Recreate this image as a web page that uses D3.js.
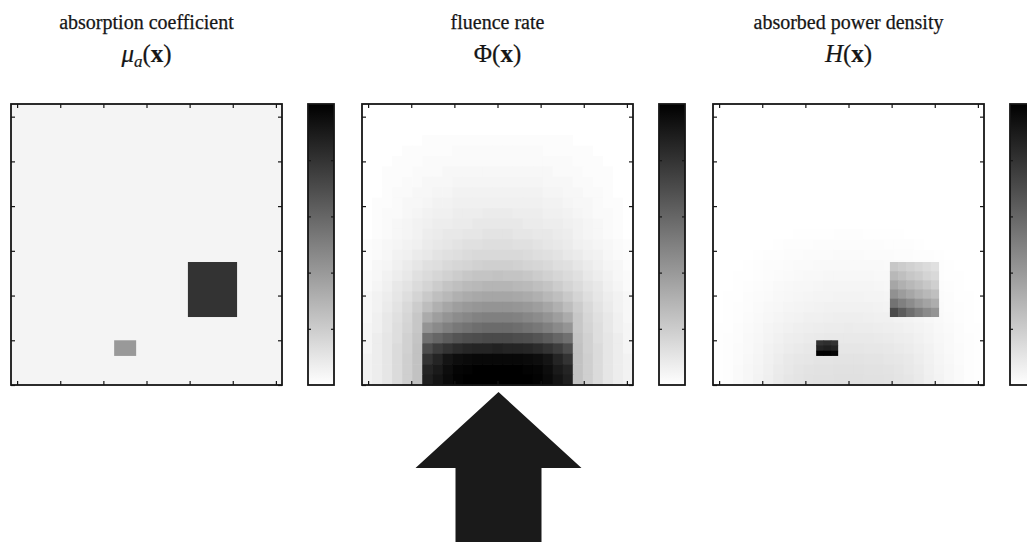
<!DOCTYPE html>
<html><head><meta charset="utf-8">
<script src="https://cdn.jsdelivr.net/npm/d3@7"></script>
<style>body{margin:0;background:#fff}svg{display:block}</style>
</head><body>
<svg id="chart" width="1027" height="542"></svg>
<script>
// ---------------- data ----------------
const titles = ["absorption coefficient", "fluence rate", "absorbed power density"];
const xTicks = [-3, -2, -1, 0, 1, 2, 3];
const yTicks = [0, 1, 2, 3, 4, 5, 6];
const cbTicks = [0.2, 0.4, 0.6, 0.8];
const xDomain = [-Math.PI, Math.PI];
const yDomain = [0, 2 * Math.PI];

// absorption coefficient: background value and inclusions (data coordinates)
const muBackground = 0.043;
const muInclusions = [
  {x0: 0.96, x1: 2.10, y0: 1.52, y1: 2.75, mu: 0.80},
  {x0: -0.75, x1: -0.24, y0: 0.65, y1: 1.00, mu: 0.40}
];

// fluence rate grid, rows from top to bottom, columns from left to right
const phiRows = [
[0,0,0,0,0,0,0,0,0,0,0,0,0,0,0,0,0,0,0,0,0,0,0,0,0,0,0],
[0,0,0,0,0,0,0,0,0,0,0,0,0,0,0,0,0,0,0,0,0,0,0,0,0,0,0],
[0,0,0,0,0,0,0,0,0,0,0,0,0,0,0,0,0,0,0,0,0,0,0,0,0,0,0],
[0,0,0,0,0,0,.01,.01,.01,.01,.01,.01,.01,.01,.01,.01,.01,.01,.01,.01,.01,0,0,0,0,0,0],
[0,0,0,0,.01,.01,.01,.01,.01,.02,.02,.02,.02,.02,.02,.02,.02,.02,.01,.01,.01,.01,.01,0,0,0,0],
[0,0,0,.01,.01,.01,.02,.02,.02,.02,.02,.02,.02,.02,.02,.02,.02,.02,.02,.02,.02,.01,.01,.01,0,0,0],
[0,0,.01,.01,.01,.02,.02,.02,.03,.03,.03,.03,.03,.03,.03,.03,.03,.03,.03,.02,.02,.02,.01,.01,.01,0,0],
[0,0,.01,.01,.02,.02,.03,.03,.03,.04,.04,.04,.04,.04,.04,.04,.04,.04,.03,.03,.03,.02,.02,.01,.01,0,0],
[0,0,.01,.02,.02,.03,.03,.04,.04,.05,.05,.05,.05,.05,.05,.05,.05,.05,.04,.04,.03,.03,.02,.02,.01,0,0],
[0,.01,.01,.02,.03,.03,.04,.05,.05,.06,.06,.06,.06,.06,.06,.06,.06,.06,.05,.05,.04,.03,.03,.02,.01,.01,0],
[0,.01,.02,.02,.03,.04,.05,.06,.06,.07,.07,.07,.08,.08,.08,.07,.07,.07,.06,.06,.05,.04,.03,.02,.02,.01,0],
[0,.01,.02,.03,.04,.05,.06,.07,.07,.08,.08,.09,.09,.09,.09,.09,.08,.08,.07,.07,.06,.05,.04,.03,.02,.01,0],
[0,.01,.02,.03,.04,.05,.07,.08,.09,.09,.10,.10,.11,.11,.11,.10,.10,.09,.09,.08,.07,.05,.04,.03,.02,.01,0],
[.01,.02,.03,.04,.05,.06,.08,.09,.10,.11,.12,.12,.13,.13,.13,.12,.12,.11,.10,.09,.08,.06,.05,.04,.03,.02,.01],
[.01,.02,.03,.05,.06,.08,.09,.11,.12,.13,.14,.15,.15,.15,.15,.15,.14,.13,.12,.11,.09,.08,.06,.05,.03,.02,.01],
[.01,.03,.04,.06,.08,.10,.12,.13,.15,.16,.17,.18,.19,.19,.19,.18,.17,.16,.15,.13,.12,.10,.08,.06,.04,.03,.01],
[.02,.03,.05,.07,.09,.12,.14,.16,.18,.20,.22,.23,.23,.24,.23,.23,.22,.20,.18,.16,.14,.12,.09,.07,.05,.03,.02],
[.02,.04,.06,.09,.11,.14,.17,.20,.23,.25,.27,.28,.29,.29,.29,.28,.27,.25,.23,.20,.17,.14,.11,.09,.06,.04,.02],
[.03,.05,.07,.10,.13,.17,.21,.25,.28,.31,.33,.34,.35,.35,.35,.34,.33,.31,.28,.25,.21,.17,.13,.10,.07,.05,.03],
[.03,.05,.08,.11,.15,.20,.26,.31,.35,.38,.40,.41,.42,.42,.42,.41,.40,.38,.35,.31,.26,.20,.15,.11,.08,.05,.03],
[.03,.06,.09,.12,.16,.22,.33,.38,.42,.45,.47,.49,.50,.50,.50,.49,.47,.45,.42,.38,.33,.22,.16,.12,.09,.06,.03],
[.04,.06,.09,.13,.17,.22,.42,.46,.50,.53,.55,.57,.58,.58,.58,.57,.55,.53,.50,.46,.42,.22,.17,.13,.09,.06,.04],
[.04,.07,.10,.13,.18,.23,.56,.60,.64,.67,.69,.70,.71,.71,.71,.70,.69,.67,.64,.60,.56,.23,.18,.13,.10,.07,.04],
[.04,.07,.10,.14,.18,.24,.70,.76,.80,.83,.85,.86,.86,.87,.86,.86,.85,.83,.80,.76,.70,.24,.18,.14,.10,.07,.04],
[.05,.07,.10,.14,.19,.24,.80,.86,.92,.95,.96,.97,.97,.97,.97,.97,.96,.95,.92,.86,.80,.24,.19,.14,.10,.07,.05],
[.05,.07,.10,.14,.19,.24,.86,.90,.95,.98,.99,1,1,1,1,1,.99,.98,.95,.90,.86,.24,.19,.14,.10,.07,.05],
[.05,.07,.10,.14,.19,.24,.88,.92,.96,.99,1,1,1,1,1,1,1,.99,.96,.92,.88,.24,.19,.14,.10,.07,.05]
];

// absorbed power density (relative units) outside the inclusions, rows top to bottom
const hBackgroundRows = [
[0,0,0,0,0,0,0,0,0,0,0,0,0,0,0,0,0,0,0,0,0,0,0,0,0,0,0],
[0,0,0,0,0,0,0,0,0,0,0,0,0,0,0,0,0,0,0,0,0,0,0,0,0,0,0],
[0,0,0,0,0,0,0,0,0,0,0,0,0,0,0,0,0,0,0,0,0,0,0,0,0,0,0],
[0,0,0,0,0,0,0,0,0,0,0,0,0,0,0,0,0,0,0,0,0,0,0,0,0,0,0],
[0,0,0,0,0,0,0,0,0,0,0,0,0,0,0,0,0,0,0,0,0,0,0,0,0,0,0],
[0,0,0,0,0,0,0,0,0,0,0,0,0,0,0,0,0,0,0,0,0,0,0,0,0,0,0],
[0,0,0,0,0,0,0,0,0,0,0,0,0,0,0,0,0,0,0,0,0,0,0,0,0,0,0],
[0,0,0,0,0,0,0,0,0,0,0,0,0,0,0,0,0,0,0,0,0,0,0,0,0,0,0],
[0,0,0,0,0,0,0,0,0,0,0,0,0,0,0,0,0,0,0,0,0,0,0,0,0,0,0],
[0,0,0,0,0,0,0,0,0,0,0,0,0,0,0,0,0,0,0,0,0,0,0,0,0,0,0],
[0,0,0,0,0,0,0,0,0,0,0,0,0,0,0,0,0,0,0,0,0,0,0,0,0,0,0],
[0,0,0,0,0,0,0,0,0,0,0,0,0,0,0,0,0,0,0,0,0,0,0,0,0,0,0],
[0,0,0,0,0,0,0,0,.003,.004,.005,.005,.006,.006,.006,.005,.005,.004,.003,0,0,0,0,0,0,0,0],
[0,0,0,0,0,0,.004,.006,.008,.009,.010,.011,.012,.012,.012,.011,.010,.009,.008,.006,.004,0,0,0,0,0,0],
[0,0,0,0,.003,.006,.009,.011,.013,.015,.016,.017,.018,.018,.018,.017,.016,.015,.013,.011,.009,.006,.003,0,0,0,0],
[0,0,0,.003,.006,.010,.013,.016,.019,.021,.023,.024,.025,.025,.025,.024,.023,.021,.019,.016,.013,.010,.006,.003,0,0,0],
[0,0,.002,.005,.009,.013,.017,.021,.024,.027,.029,.031,.032,.032,.032,.031,.029,.027,.024,.021,.017,.013,.009,.005,.002,0,0],
[0,0,.003,.007,.012,.017,.022,.026,.030,.033,.036,.038,.039,.040,.039,.038,.036,.033,.030,.026,.022,.017,.012,.007,.003,0,0],
[0,.002,.005,.010,.015,.021,.027,.032,.036,.040,.043,.045,.047,.048,.047,.045,.043,.040,.036,.032,.027,.021,.015,.010,.005,.002,0],
[0,.003,.007,.013,.019,.026,.033,.039,.044,.048,.051,.053,.055,.056,.055,.053,.051,.048,.044,.039,.033,.026,.019,.013,.007,.003,0],
[0,.004,.009,.016,.024,.032,.040,.047,.052,.057,.060,.063,.065,.066,.065,.063,.060,.057,.052,.047,.040,.032,.024,.016,.009,.004,0],
[.002,.005,.011,.019,.028,.038,.048,.056,.062,.067,.071,.074,.076,.077,.076,.074,.071,.067,.062,.056,.048,.038,.028,.019,.011,.005,.002],
[.003,.006,.013,.022,.032,.044,.056,.065,.072,.078,.082,.085,.087,.088,.087,.085,.082,.078,.072,.065,.056,.044,.032,.022,.013,.006,.003],
[.003,.007,.015,.025,.037,.050,.064,.075,.083,.089,.093,.096,.098,.099,.098,.096,.093,.089,.083,.075,.064,.050,.037,.025,.015,.007,.003],
[.003,.008,.017,.028,.041,.056,.072,.085,.094,.100,.104,.107,.109,.110,.109,.107,.104,.100,.094,.085,.072,.056,.041,.028,.017,.008,.003],
[.004,.009,.018,.030,.044,.060,.078,.092,.102,.108,.112,.115,.117,.118,.117,.115,.112,.108,.102,.092,.078,.060,.044,.030,.018,.009,.004],
[.004,.009,.019,.031,.046,.063,.082,.097,.107,.113,.117,.119,.120,.120,.120,.119,.117,.113,.107,.097,.082,.063,.046,.031,.019,.009,.004]
];

// absorbed power density (relative units) inside the inclusions, rows top to bottom
const hSquareRows = [
  [.22,.20,.18,.16,.14,.12],
  [.28,.25,.22,.20,.17,.15],
  [.35,.31,.28,.25,.22,.19],
  [.43,.39,.35,.31,.28,.25],
  [.55,.50,.45,.40,.36,.32],
  [.71,.64,.57,.51,.46,.42]
];
const hSmallRows = [
  [.80,.82,.80],
  [.86,.88,.86],
  [1.00,1.00,.98]
];
const hInclusionGrids = [hSquareRows, hSmallRows];

// ---------------- layout ----------------
const PW = 271, PH = 281, TOP = 104;
const panelLefts = [11, 362, 713];
const CB_GAP = 297, CB_W = 26;
const INK = "#161616";
const FONT = "'Liberation Serif', 'DejaVu Serif', serif";

const svg = d3.select("#chart");
const x = d3.scaleLinear().domain(xDomain).range([0, PW]);
const y = d3.scaleLinear().domain(yDomain).range([PH, 0]);
const toCells = rows => { const out = []; rows.forEach((row, r) => row.forEach((v, c) => out.push({r, c, v}))); return out; };
const phiCells = toCells(phiRows);
const hCells = toCells(hBackgroundRows);
const colB = d3.scaleBand().domain(d3.range(phiRows[0].length)).range([0, PW]);
const rowB = d3.scaleBand().domain(d3.range(phiRows.length)).range([0, PH]);

const grayScale = max => d3.scaleLinear().domain([0, max]).range(["#ffffff", "#000000"]).clamp(true);
const muMax = 1;
const phiMax = d3.max(phiCells, d => d.v);
const hMax = d3.max([d3.max(hCells, d => d.v), ...hInclusionGrids.map(g => d3.max(g.flat()))]);
const colorScales = [grayScale(muMax), grayScale(phiMax), grayScale(hMax)];

const defs = svg.append("defs");

function panel(i) {
  const g = svg.append("g").attr("transform", `translate(${panelLefts[i]},${TOP})`);
  const plot = g.append("g");
  const col = colorScales[i];
  if (i === 0) {
    plot.append("rect").attr("width", PW).attr("height", PH).attr("fill", col(muBackground));
    plot.selectAll("rect.inc").data(muInclusions).join("rect").attr("class", "inc")
      .attr("x", d => x(d.x0)).attr("y", d => y(d.y1))
      .attr("width", d => x(d.x1) - x(d.x0)).attr("height", d => y(d.y0) - y(d.y1))
      .attr("fill", d => col(d.mu));
  } else {
    const data = i === 1 ? phiCells : hCells;
    plot.selectAll("rect.cell").data(data).join("rect").attr("class", "cell")
      .attr("x", d => colB(d.c)).attr("y", d => rowB(d.r))
      .attr("width", colB.bandwidth() + 0.6).attr("height", rowB.bandwidth() + 0.6)
      .attr("fill", d => col(d.v));
    if (i === 2) {
      muInclusions.forEach((inc, k) => {
        const grid = hInclusionGrids[k];
        const ix = d3.scaleBand().domain(d3.range(grid[0].length)).range([x(inc.x0), x(inc.x1)]);
        const iy = d3.scaleBand().domain(d3.range(grid.length)).range([y(inc.y1), y(inc.y0)]);
        plot.append("g").selectAll("rect").data(toCells(grid)).join("rect")
          .attr("x", d => ix(d.c)).attr("y", d => iy(d.r))
          .attr("width", d => ix.bandwidth() + (d.c < grid[0].length - 1 ? 0.6 : 0))
          .attr("height", d => iy.bandwidth() + (d.r < grid.length - 1 ? 0.6 : 0))
          .attr("fill", d => col(d.v));
      });
    }
  }
  // ticks (inward, no labels)
  [
    [d3.axisTop(x).tickValues(xTicks), `translate(0,0)`],
    [d3.axisBottom(x).tickValues(xTicks), `translate(0,${PH})`],
    [d3.axisLeft(y).tickValues(yTicks), `translate(0,0)`],
    [d3.axisRight(y).tickValues(yTicks), `translate(${PW},0)`]
  ].forEach(([a, t]) => {
    const ag = g.append("g").attr("transform", t)
      .call(a.tickSizeInner(-4).tickSizeOuter(0).tickFormat(""));
    ag.select(".domain").remove();
    ag.selectAll("line").attr("stroke", INK).attr("stroke-width", 1.2);
  });
  g.append("rect").attr("width", PW).attr("height", PH)
    .attr("fill", "none").attr("stroke", INK).attr("stroke-width", 1.8);

  // colorbar
  const cb = svg.append("g").attr("transform", `translate(${panelLefts[i] + CB_GAP},${TOP})`);
  const gid = "cbgrad" + i;
  const grad = defs.append("linearGradient").attr("id", gid)
    .attr("x1", 0).attr("y1", 1).attr("x2", 0).attr("y2", 0);
  const cbv = d3.scaleLinear().domain([0, 1]).range([0, col.domain()[1]]);
  grad.selectAll("stop").data(d3.range(0, 1.0001, 0.1)).join("stop")
    .attr("offset", d => d).attr("stop-color", d => col(cbv(d)));
  cb.append("rect").attr("width", CB_W).attr("height", PH).attr("fill", `url(#${gid})`);
  const cy = d3.scaleLinear().domain([0, 1]).range([PH, 0]);
  [[d3.axisLeft(cy), "translate(0,0)"], [d3.axisRight(cy), `translate(${CB_W},0)`]].forEach(([a, t]) => {
    const ag = cb.append("g").attr("transform", t)
      .call(a.tickValues(cbTicks).tickSizeInner(-3).tickSizeOuter(0).tickFormat(""));
    ag.select(".domain").remove();
    ag.selectAll("line").attr("stroke", INK).attr("stroke-width", 1.2);
  });
  cb.append("rect").attr("width", CB_W).attr("height", PH)
    .attr("fill", "none").attr("stroke", INK).attr("stroke-width", 1.8);

  // titles
  const cx = panelLefts[i] + PW / 2;
  svg.append("text").attr("x", cx).attr("y", 29).attr("text-anchor", "middle")
    .attr("font-family", FONT).attr("font-size", 20).attr("fill", INK)
    .attr("stroke", INK).attr("stroke-width", 0.25).text(titles[i]);
  const t2 = svg.append("text").attr("x", cx).attr("y", 62).attr("text-anchor", "middle")
    .attr("font-family", FONT).attr("font-size", 25).attr("fill", INK)
    .attr("stroke", INK).attr("stroke-width", 0.2);
  if (i === 0) {
    t2.append("tspan").attr("font-style", "italic").text("μ");
    t2.append("tspan").attr("font-style", "italic").attr("font-size", 17).attr("dy", 5).text("a");
    t2.append("tspan").attr("dy", -5).text("(");
  } else if (i === 1) {
    t2.append("tspan").text("Φ(");
  } else {
    t2.append("tspan").attr("font-style", "italic").text("H");
    t2.append("tspan").text("(");
  }
  t2.append("tspan").attr("font-weight", "bold").text("x");
  t2.append("tspan").text(")");
}
[0, 1, 2].forEach(panel);

// incident light arrow under the fluence panel
const acx = panelLefts[1] + PW / 2 + 1, tipY = TOP + PH + 7;
const headH = 76, headHalf = 83, shaftHalf = 43, bottomY = 542;
svg.append("path")
  .attr("d", d3.line()([
    [acx, tipY], [acx + headHalf, tipY + headH], [acx + shaftHalf, tipY + headH],
    [acx + shaftHalf, bottomY], [acx - shaftHalf, bottomY], [acx - shaftHalf, tipY + headH],
    [acx - headHalf, tipY + headH]
  ]) + "Z")
  .attr("fill", "#1a1a1a");
</script>
</body></html>
